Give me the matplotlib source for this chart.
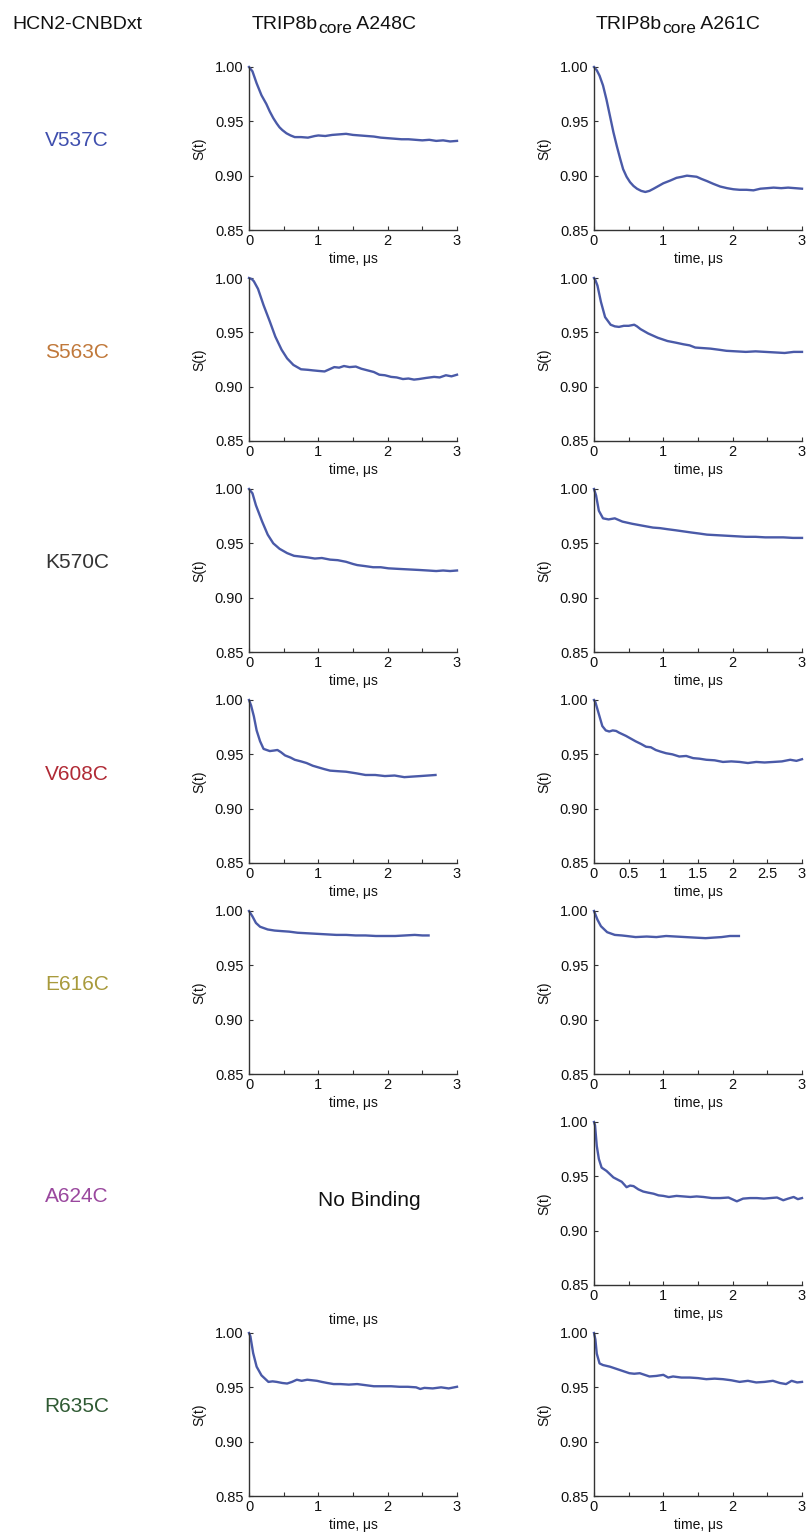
import matplotlib
matplotlib.use("Agg")
import matplotlib.pyplot as plt
from matplotlib.ticker import MultipleLocator, FormatStrFormatter, FuncFormatter
from matplotlib.transforms import offset_copy

plt.rcParams['font.family'] = ['Liberation Sans', 'DejaVu Sans']

# ---------------- data ----------------
col_title_parts = [("TRIP8b", "core", " A248C"), ("TRIP8b", "core", " A261C")]
row_header = "HCN2-CNBDxt"
mutants = ["V537C", "S563C", "K570C", "V608C", "E616C", "A624C", "R635C"]
mutant_colors = ["#3f4fae", "#c0783a", "#333333", "#b02a35", "#a89a3c", "#9a489e", "#2f5a33"]

# A248C column
t_L1 = [0, 0.05, 0.11, 0.18, 0.25, 0.30, 0.35, 0.40, 0.44, 0.48, 0.54, 0.60, 0.66, 0.75, 0.85, 0.95, 1.0, 1.1, 1.2, 1.3, 1.4, 1.5, 1.6, 1.7, 1.8, 1.9, 2.0, 2.1, 2.2, 2.3, 2.4, 2.5, 2.6, 2.7, 2.8, 2.9, 3.0]
s_L1 = [1.0, 0.996, 0.985, 0.974, 0.966, 0.959, 0.953, 0.948, 0.9445, 0.942, 0.939, 0.937, 0.9355, 0.9355, 0.935, 0.9365, 0.937, 0.9365, 0.9375, 0.938, 0.9385, 0.9375, 0.937, 0.9365, 0.936, 0.935, 0.9345, 0.934, 0.9335, 0.9335, 0.933, 0.9325, 0.933, 0.932, 0.9325, 0.9315, 0.932]

t_L2 = [0, 0.04, 0.07, 0.13, 0.21, 0.30, 0.38, 0.47, 0.55, 0.64, 0.75, 0.85, 0.92, 1.0, 1.09, 1.16, 1.23, 1.30, 1.37, 1.45, 1.54, 1.62, 1.71, 1.80, 1.88, 1.96, 2.05, 2.13, 2.22, 2.30, 2.38, 2.45, 2.55, 2.67, 2.75, 2.84, 2.92, 3.0]
s_L2 = [1.0, 0.999, 0.997, 0.990, 0.975, 0.960, 0.946, 0.934, 0.926, 0.920, 0.916, 0.9155, 0.915, 0.9145, 0.914, 0.916, 0.918, 0.9175, 0.919, 0.918, 0.9185, 0.9165, 0.915, 0.9135, 0.911, 0.9105, 0.909, 0.9085, 0.907, 0.9075, 0.9065, 0.907, 0.908, 0.909, 0.9085, 0.9105, 0.9095, 0.911]

t_L3 = [0, 0.05, 0.10, 0.19, 0.27, 0.35, 0.44, 0.55, 0.65, 0.72, 0.85, 0.95, 1.05, 1.17, 1.28, 1.40, 1.50, 1.56, 1.68, 1.79, 1.90, 2.01, 2.15, 2.30, 2.45, 2.58, 2.70, 2.80, 2.90, 3.0]
s_L3 = [1.0, 0.996, 0.985, 0.970, 0.958, 0.950, 0.945, 0.941, 0.9385, 0.938, 0.937, 0.936, 0.9365, 0.935, 0.9345, 0.933, 0.931, 0.930, 0.929, 0.928, 0.928, 0.927, 0.9265, 0.926, 0.9255, 0.925, 0.9245, 0.925, 0.9245, 0.925]

t_L4 = [0, 0.03, 0.07, 0.11, 0.16, 0.21, 0.30, 0.36, 0.41, 0.46, 0.52, 0.60, 0.66, 0.75, 0.83, 0.92, 1.0, 1.08, 1.17, 1.28, 1.40, 1.55, 1.68, 1.82, 1.96, 2.10, 2.24, 2.35, 2.47, 2.58, 2.69]
s_L4 = [1.0, 0.995, 0.985, 0.972, 0.962, 0.955, 0.953, 0.9535, 0.954, 0.952, 0.949, 0.947, 0.945, 0.9435, 0.942, 0.9395, 0.938, 0.9365, 0.935, 0.9345, 0.934, 0.9325, 0.931, 0.931, 0.930, 0.9305, 0.929, 0.9295, 0.930, 0.9305, 0.931]

t_L5 = [0, 0.05, 0.10, 0.16, 0.27, 0.37, 0.47, 0.58, 0.70, 0.84, 0.98, 1.12, 1.26, 1.40, 1.54, 1.68, 1.83, 1.97, 2.11, 2.25, 2.39, 2.50, 2.59]
s_L5 = [1.0, 0.995, 0.989, 0.9855, 0.983, 0.982, 0.9815, 0.981, 0.980, 0.9795, 0.979, 0.9785, 0.978, 0.978, 0.9775, 0.9775, 0.977, 0.977, 0.977, 0.9775, 0.978, 0.9775, 0.9775]

t_L7 = [0, 0.02, 0.06, 0.11, 0.18, 0.28, 0.34, 0.40, 0.48, 0.55, 0.62, 0.69, 0.76, 0.84, 0.91, 0.98, 1.05, 1.13, 1.22, 1.32, 1.44, 1.56, 1.68, 1.80, 1.92, 2.05, 2.17, 2.29, 2.41, 2.47, 2.53, 2.65, 2.77, 2.88, 3.0]
s_L7 = [1.0, 0.997, 0.9815, 0.969, 0.961, 0.955, 0.9555, 0.955, 0.954, 0.9535, 0.955, 0.957, 0.956, 0.957, 0.9565, 0.956, 0.955, 0.954, 0.953, 0.953, 0.9525, 0.953, 0.952, 0.951, 0.951, 0.951, 0.9505, 0.9505, 0.950, 0.9485, 0.9495, 0.949, 0.950, 0.949, 0.9505]

# A261C column
t_R1 = [0, 0.04, 0.08, 0.13, 0.18, 0.23, 0.28, 0.33, 0.38, 0.42, 0.47, 0.52, 0.57, 0.62, 0.68, 0.74, 0.80, 0.86, 0.93, 1.0, 1.10, 1.19, 1.27, 1.34, 1.41, 1.48, 1.55, 1.63, 1.72, 1.82, 1.92, 2.01, 2.10, 2.2, 2.3, 2.4, 2.5, 2.59, 2.7, 2.8, 2.9, 3.0]
s_R1 = [1.0, 0.997, 0.992, 0.983, 0.970, 0.955, 0.940, 0.927, 0.915, 0.906, 0.899, 0.894, 0.8905, 0.888, 0.886, 0.885, 0.886, 0.888, 0.8905, 0.893, 0.8955, 0.898, 0.899, 0.900, 0.8995, 0.899, 0.897, 0.895, 0.8925, 0.890, 0.8885, 0.8875, 0.887, 0.887, 0.8865, 0.888, 0.8885, 0.889, 0.8885, 0.889, 0.8885, 0.888]

t_R2 = [0, 0.02, 0.05, 0.10, 0.16, 0.24, 0.30, 0.36, 0.43, 0.50, 0.58, 0.62, 0.67, 0.78, 0.92, 1.06, 1.18, 1.29, 1.38, 1.46, 1.57, 1.68, 1.80, 1.91, 2.05, 2.19, 2.33, 2.47, 2.61, 2.75, 2.88, 3.0]
s_R2 = [1.0, 0.998, 0.993, 0.978, 0.964, 0.957, 0.9555, 0.955, 0.956, 0.956, 0.957, 0.9555, 0.953, 0.949, 0.945, 0.942, 0.9405, 0.939, 0.938, 0.936, 0.9355, 0.935, 0.934, 0.933, 0.9325, 0.932, 0.9325, 0.932, 0.9315, 0.931, 0.932, 0.932]

t_R3 = [0, 0.03, 0.07, 0.13, 0.21, 0.30, 0.41, 0.55, 0.72, 0.85, 0.95, 1.06, 1.18, 1.29, 1.40, 1.52, 1.63, 1.77, 1.91, 2.05, 2.19, 2.33, 2.47, 2.60, 2.73, 2.87, 3.0]
s_R3 = [1.0, 0.994, 0.980, 0.973, 0.972, 0.973, 0.970, 0.968, 0.966, 0.9645, 0.964, 0.963, 0.962, 0.961, 0.960, 0.959, 0.958, 0.9575, 0.957, 0.9565, 0.956, 0.956, 0.9555, 0.9555, 0.9555, 0.955, 0.955]

t_R4 = [0, 0.02, 0.07, 0.12, 0.17, 0.22, 0.27, 0.32, 0.36, 0.46, 0.53, 0.60, 0.68, 0.75, 0.82, 0.89, 0.96, 1.04, 1.13, 1.23, 1.33, 1.43, 1.52, 1.62, 1.74, 1.86, 1.98, 2.10, 2.22, 2.34, 2.46, 2.59, 2.71, 2.83, 2.92, 3.0]
s_R4 = [1.0, 0.998, 0.987, 0.976, 0.972, 0.971, 0.972, 0.9715, 0.970, 0.967, 0.9645, 0.962, 0.9595, 0.957, 0.9565, 0.954, 0.9525, 0.951, 0.950, 0.948, 0.9485, 0.9465, 0.946, 0.945, 0.9445, 0.943, 0.9435, 0.943, 0.942, 0.943, 0.9425, 0.943, 0.9435, 0.945, 0.944, 0.9455]

t_R5 = [0, 0.05, 0.10, 0.19, 0.30, 0.40, 0.47, 0.60, 0.76, 0.90, 1.04, 1.18, 1.32, 1.46, 1.61, 1.72, 1.84, 1.96, 2.09]
s_R5 = [1.0, 0.992, 0.986, 0.9805, 0.978, 0.9775, 0.977, 0.976, 0.9765, 0.976, 0.977, 0.9765, 0.976, 0.9755, 0.975, 0.9755, 0.976, 0.977, 0.977]

t_R6 = [0, 0.015, 0.04, 0.07, 0.11, 0.18, 0.23, 0.28, 0.34, 0.40, 0.47, 0.52, 0.57, 0.64, 0.71, 0.78, 0.86, 0.93, 1.0, 1.08, 1.19, 1.29, 1.39, 1.48, 1.58, 1.70, 1.82, 1.94, 2.06, 2.15, 2.25, 2.35, 2.45, 2.54, 2.64, 2.73, 2.80, 2.88, 2.94, 3.0]
s_R6 = [1.0, 0.997, 0.978, 0.966, 0.958, 0.955, 0.952, 0.949, 0.947, 0.945, 0.940, 0.9415, 0.941, 0.938, 0.936, 0.935, 0.934, 0.9325, 0.932, 0.931, 0.932, 0.9315, 0.931, 0.9315, 0.931, 0.930, 0.930, 0.9305, 0.927, 0.9295, 0.930, 0.930, 0.9295, 0.930, 0.9305, 0.928, 0.9295, 0.931, 0.929, 0.930]

t_R7 = [0, 0.02, 0.04, 0.08, 0.13, 0.23, 0.30, 0.37, 0.44, 0.51, 0.58, 0.66, 0.73, 0.80, 0.90, 1.0, 1.07, 1.14, 1.26, 1.38, 1.50, 1.62, 1.74, 1.86, 1.98, 2.10, 2.22, 2.34, 2.46, 2.58, 2.68, 2.77, 2.85, 2.93, 3.0]
s_R7 = [1.0, 0.994, 0.981, 0.972, 0.9705, 0.969, 0.9675, 0.966, 0.9645, 0.963, 0.9625, 0.963, 0.9615, 0.960, 0.9605, 0.9615, 0.959, 0.960, 0.959, 0.959, 0.9585, 0.9575, 0.958, 0.9575, 0.9565, 0.955, 0.956, 0.9545, 0.955, 0.956, 0.954, 0.953, 0.956, 0.9545, 0.955]

left_series = [(t_L1, s_L1), (t_L2, s_L2), (t_L3, s_L3), (t_L4, s_L4), (t_L5, s_L5), None, (t_L7, s_L7)]
right_series = [(t_R1, s_R1), (t_R2, s_R2), (t_R3, s_R3), (t_R4, s_R4), (t_R5, s_R5), (t_R6, s_R6), (t_R7, s_R7)]

y_ticks = [0.85, 0.90, 0.95, 1.00]
no_binding_text = "No Binding"
xlabel_text = "time, μs"
ylabel_text = "S(t)"

# ---------------- layout ----------------
W, H = 811, 1538
fig = plt.figure(figsize=(W / 100, H / 100), dpi=100)
line_color = "#4a5aa8"
axis_color = "#333333"
text_color = "#111111"

AX_W, AX_H = 208, 163
ROW_TOP0, ROW_STEP = 67, 211
COL_X = [249, 594]


def rect(x0, ytop):
    return [x0 / W, 1 - (ytop + AX_H) / H, AX_W / W, AX_H / H]


def style_axes(ax, half_ticks=False):
    for s in ["top", "right"]:
        ax.spines[s].set_visible(False)
    for s in ["left", "bottom"]:
        ax.spines[s].set_color(axis_color)
        ax.spines[s].set_linewidth(1.0)
    ax.set_xlim(0, 3)
    ax.set_ylim(0.85, 1.0)
    ax.set_yticks(y_ticks)
    ax.yaxis.set_major_formatter(FormatStrFormatter("%.2f"))
    if half_ticks:
        ax.xaxis.set_major_locator(MultipleLocator(0.5))
    else:
        ax.xaxis.set_major_locator(MultipleLocator(1))
        ax.xaxis.set_minor_locator(MultipleLocator(0.5))
    ax.xaxis.set_major_formatter(FuncFormatter(lambda v, p: "%g" % v))
    ax.tick_params(which="both", direction="in", length=3, width=0.8,
                   color=axis_color, labelsize=10.5, labelcolor=text_color)
    ax.tick_params(axis="x", which="both", pad=3)
    ax.tick_params(axis="y", which="both", pad=4)
    ax.set_xlabel(xlabel_text, fontsize=10, labelpad=3, color=text_color)
    ax.set_ylabel(ylabel_text, fontsize=10, labelpad=6, color=text_color)
    ax.patch.set_alpha(0)


for i in range(len(mutants)):
    ytop = ROW_TOP0 + ROW_STEP * i
    axL = fig.add_axes(rect(COL_X[0], ytop))
    if left_series[i] is None:
        axL.set_xlim(0, 3)
        axL.set_frame_on(False)
        axL.tick_params(which="both", length=0, labelbottom=False, labelleft=False)
        axL.set_xlabel(xlabel_text, fontsize=10, labelpad=20, color=text_color)
        axL.text(0.58, 0.52, no_binding_text, transform=axL.transAxes,
                 ha="center", va="center", fontsize=15, color=text_color)
    else:
        style_axes(axL)
        t, s = left_series[i]
        axL.plot(t, s, color=line_color, lw=1.7, clip_on=False, solid_joinstyle="round")
    axR = fig.add_axes(rect(COL_X[1], ytop))
    style_axes(axR, half_ticks=(i == 3))
    t, s = right_series[i]
    axR.plot(t, s, color=line_color, lw=1.7, clip_on=False, solid_joinstyle="round")
    fig.text(77 / W, 1 - (141 + ROW_STEP * i) / H, mutants[i], color=mutant_colors[i],
             fontsize=15, ha="center", va="center")

# headers
base_y = 1 - 29 / H  # baseline
fig.text(12 / W, base_y, row_header, fontsize=14, ha="left", va="baseline", color=text_color)

renderer = fig.canvas.get_renderer()


def compose_title(x_px, parts):
    main1, sub, main2 = parts
    t1 = fig.text(x_px / W, base_y, main1, fontsize=14, ha="left", va="baseline", color=text_color)
    e1 = t1.get_window_extent(renderer)
    t2 = fig.text(e1.x1 / W, base_y - 4 / H, sub, fontsize=12.5, ha="left", va="baseline", color=text_color)
    e2 = t2.get_window_extent(renderer)
    fig.text(e2.x1 / W, base_y, main2, fontsize=14, ha="left", va="baseline", color=text_color)


compose_title(252, col_title_parts[0])
compose_title(596, col_title_parts[1])

fig.savefig("out.png", dpi=100, facecolor="white")
